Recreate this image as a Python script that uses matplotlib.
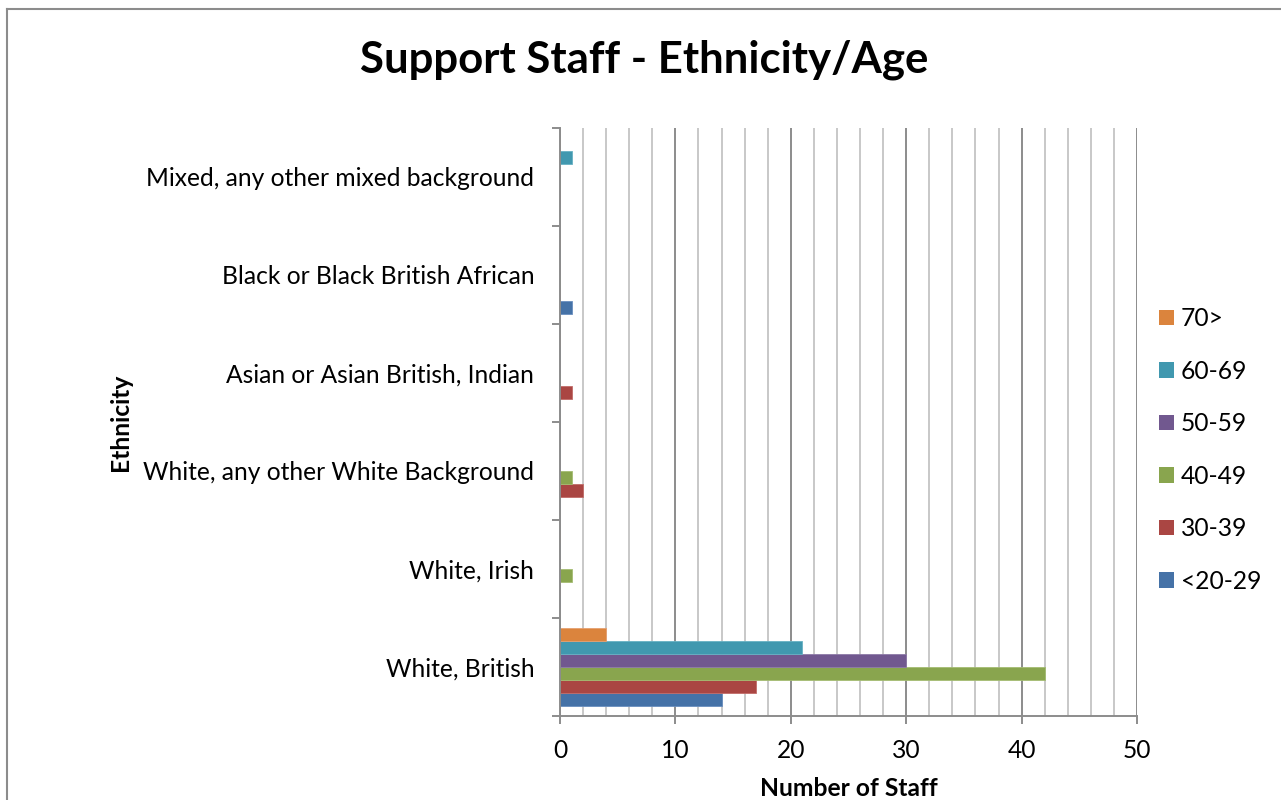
import matplotlib
matplotlib.use("Agg")
import matplotlib.pyplot as plt
from matplotlib.lines import Line2D
from matplotlib.ticker import MultipleLocator
import numpy as np

plt.rcParams['font.family'] = ['Lato', 'DejaVu Sans']

categories = [
    "White, British",
    "White, Irish",
    "White, any other White Background",
    "Asian or Asian British, Indian",
    "Black or Black British African",
    "Mixed, any other mixed background",
]
age_groups = ["<20-29", "30-39", "40-49", "50-59", "60-69", "70>"]
age_20_29 = [14, 0, 0, 0, 1, 0]
age_30_39 = [17, 0, 2, 1, 0, 0]
age_40_49 = [42, 1, 1, 0, 0, 0]
age_50_59 = [30, 0, 0, 0, 0, 0]
age_60_69 = [21, 0, 0, 0, 0, 1]
age_70_plus = [4, 0, 0, 0, 0, 0]
series = [age_20_29, age_30_39, age_40_49, age_50_59, age_60_69, age_70_plus]
colors = ["#4572A7", "#AA4643", "#89A54E", "#71588F", "#4198AF", "#DB843D"]
edge_colors = ["#6A8FC0", "#C26C69", "#A4BC72", "#8E7AA8", "#67B1C4", "#E6A070"]

fig = plt.figure(figsize=(12.81, 8.0), dpi=100)
ax = fig.add_axes([560 / 1281, 1 - 716 / 800, (1137 - 560) / 1281, (716 - 128) / 800])

n = len(series)
h = 1 / (n + 1.5)
y = np.arange(len(categories))
for i, (vals, c, ec) in enumerate(zip(series, colors, edge_colors)):
    offset = (i - (n - 1) / 2) * h
    ax.barh(y + offset, vals, height=h, color=c, edgecolor=ec, linewidth=0.6,
            label=age_groups[i], zorder=3)

ax.set_xlim(0, 50)
ax.set_ylim(-0.5, len(categories) - 0.5)

ax.xaxis.set_major_locator(MultipleLocator(10))
ax.xaxis.set_minor_locator(MultipleLocator(2))
ax.grid(axis='x', which='minor', color='#C8C8C8', linewidth=1.4, zorder=0)
ax.grid(axis='x', which='major', color='#8C8C8C', linewidth=1.4, zorder=1)

ax.set_yticks(y)
ax.set_yticklabels(categories)
ax.set_yticks(np.arange(-0.5, len(categories)), minor=True)
ax.tick_params(axis='y', which='major', length=0, pad=18.5, labelsize=17.7)
ax.tick_params(axis='y', which='minor', length=6, width=1.4, color='#8C8C8C', direction='out')
ax.tick_params(axis='x', which='major', length=6, width=1.4, color='#8C8C8C',
               direction='out', labelsize=17.7, pad=10.5)
ax.tick_params(axis='x', which='minor', length=0)
for lbl in ax.get_yticklabels():
    lbl.set_va('center_baseline')

for side in ['top', 'right']:
    ax.spines[side].set_visible(False)
for side in ['left', 'bottom']:
    ax.spines[side].set_color('#8C8C8C')
    ax.spines[side].set_linewidth(1.4)
    ax.spines[side].set_zorder(4)

ax.set_xlabel("Number of Staff", fontsize=17.7, fontweight='bold', labelpad=11)
fig.text(121 / 1281, 1 - 422 / 800, "Ethnicity", fontsize=17.7, fontweight='bold',
         rotation=90, ha='center', va='center')

fig.text(644 / 1281, 1 - 60 / 800, "Support Staff - Ethnicity/Age", fontsize=31.5,
         fontweight='bold', ha='center', va='center')

handles, labels = ax.get_legend_handles_labels()
leg = fig.legend(handles[::-1], labels[::-1], loc='center left',
                 bbox_to_anchor=(1159 / 1281, 1 - 450 / 800), frameon=False,
                 fontsize=17.7, handlelength=0.6, handleheight=0.6, handletextpad=0.3,
                 labelspacing=1.2, borderaxespad=0, borderpad=0)
for p in leg.get_patches():
    p.set_edgecolor('none')

fig.add_artist(Line2D([6.5 / 1281, 6.5 / 1281], [0, 1 - 8.5 / 800],
                      transform=fig.transFigure, color='#8C8C8C', linewidth=1.5))
fig.add_artist(Line2D([6.5 / 1281, 1], [1 - 8.5 / 800, 1 - 8.5 / 800],
                      transform=fig.transFigure, color='#8C8C8C', linewidth=1.5))

fig.savefig("out.png", dpi=100)
